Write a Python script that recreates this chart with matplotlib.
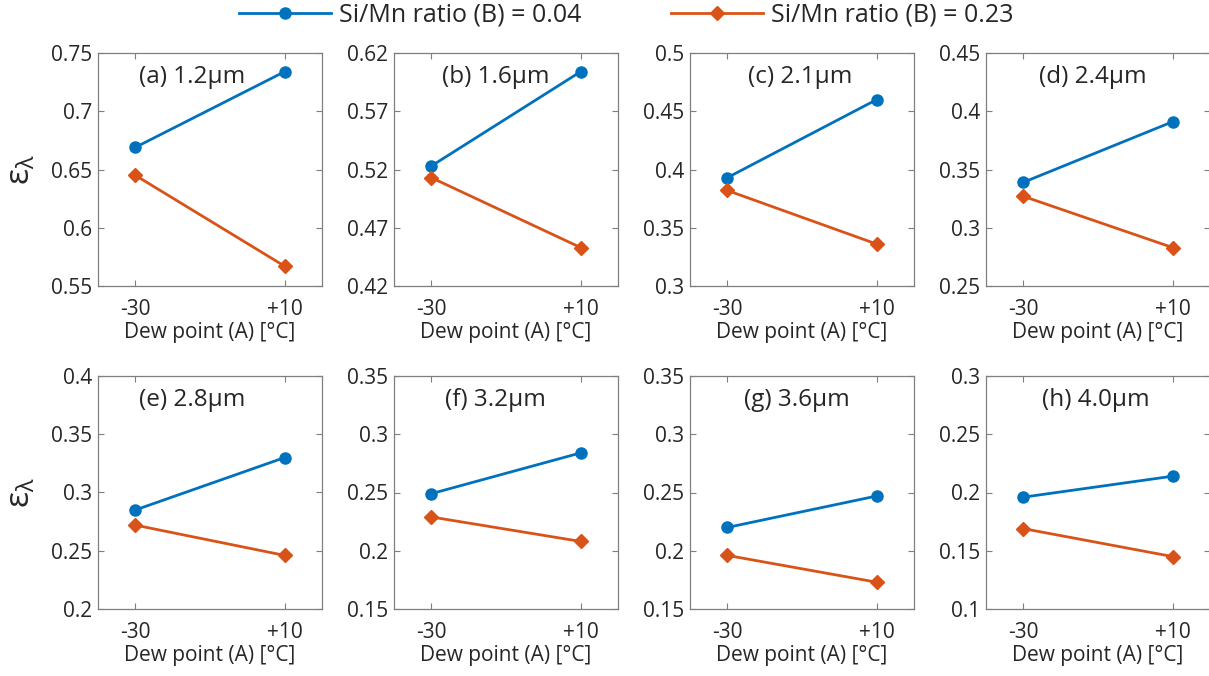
"""
Spectral emissivity vs dew point for two Si/Mn ratios, one panel per wavelength.
"""

import numpy as np
import matplotlib
matplotlib.use("Agg")
import matplotlib.pyplot as plt
from matplotlib.ticker import FuncFormatter

plt.rcParams["font.family"] = ["Open Sans", "DejaVu Sans"]
plt.rcParams["mathtext.fontset"] = "custom"
plt.rcParams["mathtext.rm"] = "Open Sans"
plt.rcParams["mathtext.it"] = "Open Sans"

# ---------------- DATA ----------------
dew_points = [-30, 10]
dew_labels = ["-30", "+10"]
panel_labels = ["(a) 1.2\u00b5m", "(b) 1.6\u00b5m", "(c) 2.1\u00b5m", "(d) 2.4\u00b5m",
                "(e) 2.8\u00b5m", "(f) 3.2\u00b5m", "(g) 3.6\u00b5m", "(h) 4.0\u00b5m"]

# emissivity at [-30, +10] for each panel
eps_b004 = [[0.669, 0.734], [0.523, 0.604], [0.393, 0.460], [0.339, 0.391],
            [0.285, 0.330], [0.249, 0.284], [0.220, 0.247], [0.196, 0.214]]
eps_b023 = [[0.645, 0.567], [0.513, 0.453], [0.382, 0.336], [0.327, 0.283],
            [0.272, 0.246], [0.229, 0.208], [0.196, 0.173], [0.169, 0.145]]

y_limits = [(0.55, 0.75), (0.42, 0.62), (0.30, 0.50), (0.25, 0.45),
            (0.20, 0.40), (0.15, 0.35), (0.15, 0.35), (0.10, 0.30)]

series_labels = ["Si/Mn ratio (B) = 0.04", "Si/Mn ratio (B) = 0.23"]

# ---------------- STYLE ----------------
BLUE = "#0072BD"
ORANGE = "#D95319"
AX_COLOR = "#262626"
SPINE_COLOR = "#7f7f7f"
label_x = [0.42, 0.455, 0.49, 0.478, 0.42, 0.451, 0.478, 0.49]

W, H = 1209, 676
fig = plt.figure(figsize=(W / 100, H / 100), dpi=100)

lefts = [98, 394, 690, 986]
tops = [53, 376]
ax_w, ax_h = 224, 233

fmt = FuncFormatter(lambda v, p: f"{v:g}")

handles = []
for i in range(8):
    r, c = divmod(i, 4)
    ax = fig.add_axes([lefts[c] / W, 1 - (tops[r] + ax_h) / H, ax_w / W, ax_h / H])
    h1, = ax.plot(dew_points, eps_b004[i], color=BLUE, lw=2, marker="o", ms=8,
                  label=series_labels[0])
    h2, = ax.plot(dew_points, eps_b023[i], color=ORANGE, lw=2, marker="D", ms=7.5,
                  label=series_labels[1])
    if i == 0:
        handles = [h1, h2]

    lo, hi = y_limits[i]
    ax.set_xlim(-40, 20)
    ax.set_ylim(lo, hi)
    ax.set_xticks(dew_points)
    ax.set_xticklabels(dew_labels)
    ax.set_yticks(np.linspace(lo, hi, 5))
    ax.yaxis.set_major_formatter(fmt)

    ax.tick_params(direction="in", top=True, right=True, length=4, width=0.8,
                   colors=SPINE_COLOR, labelcolor=AX_COLOR, labelsize=15)
    ax.tick_params(axis="x", pad=9)
    ax.tick_params(axis="y", pad=4)
    for s in ax.spines.values():
        s.set_color(SPINE_COLOR)
        s.set_linewidth(0.9)

    ax.set_xlabel("Dew point (A) [\u00b0C]", fontsize=15, color=AX_COLOR, labelpad=2)
    if c == 0:
        ax.set_ylabel(r"$\mathrm{\epsilon}_{\mathrm{\lambda}}$", fontsize=24,
                      color=AX_COLOR)
        ax.yaxis.set_label_coords(-0.27, 0.5)

    ax.text(label_x[i], 0.895, panel_labels[i], transform=ax.transAxes,
            ha="center", va="center", fontsize=17.5, color=AX_COLOR)

fig.legend(handles=handles, loc="center", bbox_to_anchor=(626 / W, 1 - 15 / H),
           ncol=2, frameon=False, fontsize=18, handlelength=3.7,
           columnspacing=3.6, handletextpad=0.3, labelcolor=AX_COLOR)

fig.savefig("out.png", dpi=100)
